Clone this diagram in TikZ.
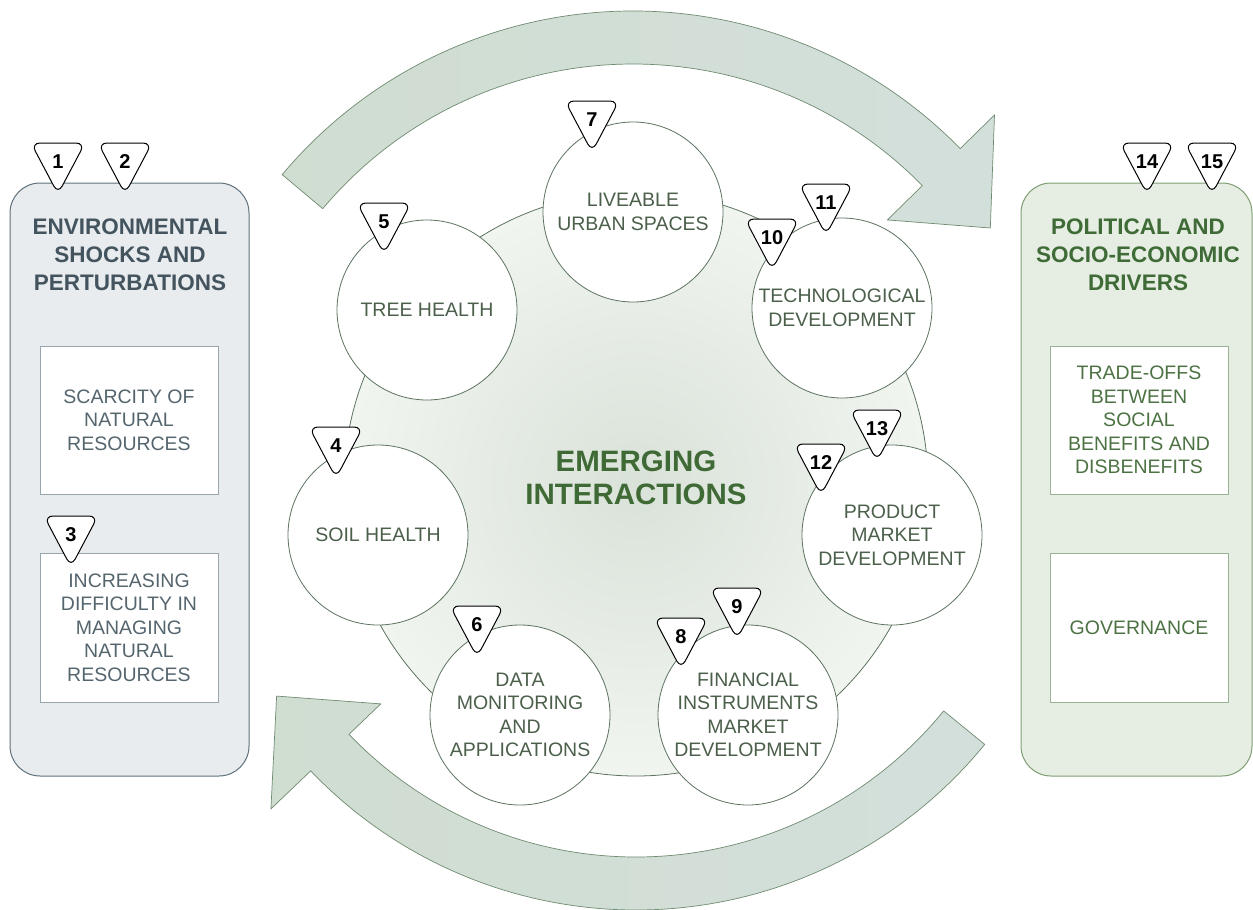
\documentclass[tikz,border=0pt]{standalone}
\usepackage{fontspec}
\setmainfont{Liberation Sans}
\usetikzlibrary{calc}
\definecolor{lpanelfill}{HTML}{E8ECEF}
\definecolor{lpanelline}{HTML}{5E707A}
\definecolor{lheadtext}{HTML}{44545E}
\definecolor{linnerline}{HTML}{9AA6AD}
\definecolor{linnertext}{HTML}{55656E}
\definecolor{rpanelfill}{HTML}{E6EDE2}
\definecolor{rpanelline}{HTML}{7E9E74}
\definecolor{rheadtext}{HTML}{3F6B37}
\definecolor{rinnerline}{HTML}{9CB294}
\definecolor{rinnertext}{HTML}{4C7243}
\definecolor{circline}{HTML}{5D7360}
\definecolor{circtext}{HTML}{4B5F4B}
\definecolor{bigin}{HTML}{D9E2D9}
\definecolor{bigout}{HTML}{F1F5F0}
\definecolor{arrowL}{HTML}{D0DDD1}
\definecolor{arrowR}{HTML}{D3DFDB}
\definecolor{arrowline}{HTML}{6F8B70}
\definecolor{emtext}{HTML}{3F6A35}
\tikzset{
  panelL/.style={draw=lpanelline, fill=lpanelfill, line width=1pt, rounded corners=30pt},
  panelR/.style={draw=rpanelline, fill=rpanelfill, line width=1pt, rounded corners=30pt},
  headL/.style={text=lheadtext, font=\bfseries\fontsize{22.5}{28}\selectfont, align=center},
  headR/.style={text=rheadtext, font=\bfseries\fontsize{22.5}{28}\selectfont, align=center},
  innerL/.style={draw=linnerline, fill=white, line width=0.8pt, text=linnertext,
     font=\fontsize{19.5}{23.5}\selectfont, align=center},
  innerR/.style={draw=rinnerline, fill=white, line width=0.8pt, text=rinnertext,
     font=\fontsize{19.5}{23.5}\selectfont, align=center},
  topic/.style={circle, draw=circline, fill=white, line width=0.8pt, minimum size=180pt,
     inner sep=0pt, text=circtext, font=\fontsize{19.5}{23.5}\selectfont, align=center},
  bandarrow/.style={draw=arrowline, line width=0.7pt, left color=arrowL, right color=arrowR},
  badgeline/.style={draw=black, fill=white, line width=1pt, rounded corners=9pt},
  badgetext/.style={font=\bfseries\fontsize{20}{22}\selectfont, text=black, inner sep=0pt},
  badge/.pic={
    \path[badgeline] (0,-19) -- (27,-19) -- (0,32) -- (-27,-19) -- cycle;
    \node[badgetext] (-n) at (0,0) {#1};
  }
}
\begin{document}
\begin{tikzpicture}[x=1pt, y=-1pt]
\useasboundingbox (0,0) rectangle (1253,910);

% side panels
\path[panelL] (10,183) rectangle (249,776);
\path[panelR] (1021,183) rectangle (1252,776);
\node[headL] (lhead) at (130,255) {ENVIRONMENTAL\\SHOCKS AND\\PERTURBATIONS};
\node[headR] (rhead) at (1138,255) {POLITICAL AND\\SOCIO-ECONOMIC\\DRIVERS};
\node[innerL, minimum width=178pt, minimum height=148pt, inner sep=0pt] (scarcity) at (129,420)
  {SCARCITY OF\\NATURAL\\RESOURCES};
\node[innerL, minimum width=178pt, minimum height=149pt, inner sep=0pt] (difficulty) at (129,627.5)
  {INCREASING\\DIFFICULTY IN\\MANAGING\\NATURAL\\RESOURCES};
\node[innerR, minimum width=178pt, minimum height=148pt, inner sep=0pt] (tradeoffs) at (1139,420)
  {TRADE-OFFS\\BETWEEN\\SOCIAL\\BENEFITS AND\\DISBENEFITS};
\node[innerR, minimum width=178pt, minimum height=149pt, inner sep=0pt] (governance) at (1139,627.5)
  {GOVERNANCE};

% curved arrows
\coordinate (c1) at (633,469);
\coordinate (c2) at (636,460);
\path[bandarrow] ($(c1)+(-140:458)$) arc[start angle=-140, end angle=-44.4, radius=458]
  -- ($(c1)+(-44.4:506)$) -- ($(c1)+(-34:431)$) -- ($(c1)+(-44.4:356)$)
  -- ($(c1)+(-44.4:405)$) arc[start angle=-44.4, end angle=-140, radius=405] -- cycle;
\path[bandarrow] ($(c2)+(39.2:397)$) arc[start angle=39.2, end angle=136.3, radius=397]
  -- ($(c2)+(136.3:353)$) -- ($(c2)+(146.7:430)$) -- ($(c2)+(136.3:505)$)
  -- ($(c2)+(136.3:450)$) arc[start angle=136.3, end angle=39.2, radius=450] -- cycle;

% central circle
\node[circle, draw=circline, line width=0.8pt, inner color=bigin, outer color=bigout,
  minimum size=584pt, inner sep=0pt] (core) at (636,484) {};
\node[text=emtext, font=\bfseries\fontsize{29.5}{33}\selectfont, align=center] (emerging)
  at (636,478) {EMERGING\\INTERACTIONS};

% topic circles
\node[topic] (liveable) at (633,212) {LIVEABLE\\URBAN SPACES};
\node[topic] (tree) at (427,310) {TREE HEALTH};
\node[topic] (tech) at (842,308) {TECHNOLOGICAL\\DEVELOPMENT};
\node[topic] (soil) at (378,535) {SOIL HEALTH};
\node[topic] (product) at (892,535) {PRODUCT\\MARKET\\DEVELOPMENT};
\node[topic] (data) at (520,715) {DATA\\MONITORING\\AND\\APPLICATIONS};
\node[topic] (financial) at (748,715) {FINANCIAL\\INSTRUMENTS\\MARKET\\DEVELOPMENT};

% badges
\pic (b1) at (58,162) {badge=1};
\pic (b2) at (125,162) {badge=2};
\pic (b3) at (71,535) {badge=3};
\pic (b4) at (336,446) {badge=4};
\pic (b5) at (384,222) {badge=5};
\pic (b6) at (477,625) {badge=6};
\pic (b7) at (592,120) {badge=7};
\pic (b8) at (681,637) {badge=8};
\pic (b9) at (737,607) {badge=9};
\pic (b10) at (772,238) {badge=10};
\pic (b11) at (826,203) {badge=11};
\pic (b12) at (821,463) {badge=12};
\pic (b13) at (877,429) {badge=13};
\pic (b14) at (1147,162) {badge=14};
\pic (b15) at (1212,162) {badge=15};
\end{tikzpicture}
\end{document}
